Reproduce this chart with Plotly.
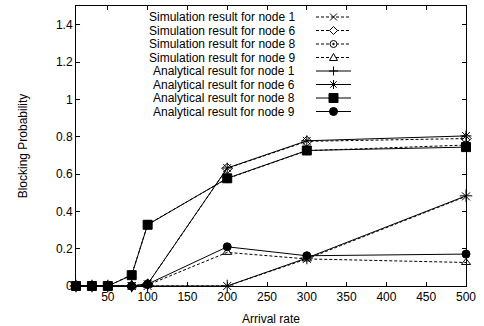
import plotly.graph_objects as go

x = [10, 30, 50, 80, 100, 200, 300, 500]
sim1 = [0, 0, 0, 0, 0, 0, 0.145, 0.48]
sim6 = [0, 0, 0, 0, 0.01, 0.63, 0.775, 0.79]
sim8 = [0, 0, 0, 0.06, 0.33, 0.575, 0.725, 0.755]
sim9 = [0, 0, 0, 0, 0.005, 0.18, 0.145, 0.126]
ana1 = [0, 0, 0, 0, 0, 0, 0.15, 0.483]
ana6 = [0, 0, 0, 0, 0.01, 0.632, 0.778, 0.804]
ana8 = [0, 0, 0, 0.058, 0.328, 0.577, 0.726, 0.744]
ana9 = [0, 0, 0, 0, 0.01, 0.21, 0.162, 0.171]

names = [
    "Simulation result for node 1", "Simulation result for node 6",
    "Simulation result for node 8", "Simulation result for node 9",
    "Analytical result for node 1", "Analytical result for node 6",
    "Analytical result for node 8", "Analytical result for node 9",
]
series = [sim1, sim6, sim8, sim9, ana1, ana6, ana8, ana9]
symbols = ["x-thin-open", "diamond-open", "circle-open-dot", "triangle-up-open",
           "cross-thin-open", "asterisk-open", "square", "circle"]
sizes = [8, 8, 8, 8, 9, 9, 9, 8]
dashes = ["3px,2px"] * 4 + ["solid"] * 4

FONT = "Liberation Sans, Arial, sans-serif"
FS = 12
L, R, T, B = 76, 18, 6, 40
W, H = 484, 326
PW, PH = W - L - R, H - T - B


def px(v):
    return (v - L) / PW


def py(v):
    return (H - B - v) / PH


fig = go.Figure()
for n, s, sym, sz, d in zip(names, series, symbols, sizes, dashes):
    fig.add_trace(go.Scatter(
        x=x, y=s, name=n, mode="lines+markers",
        line=dict(color="black", width=1, dash=d),
        marker=dict(symbol=sym, size=sz, color="black",
                    line=dict(color="black", width=1)),
        showlegend=False, cliponaxis=False,
    ))

# custom legend (text right-aligned, key on the right, like gnuplot)
rows_y = [17, 30.5, 44, 57.5, 71, 84.5, 98, 111.5]
paths = {
    0: "M-3.5,-3.5L3.5,3.5M-3.5,3.5L3.5,-3.5",
    1: "M0,-4L4,0L0,4L-4,0Z",
    3: "M-4,-3L4,-3L0,4Z",
    4: "M-4.5,0L4.5,0M0,-4.5L0,4.5",
    5: "M-4.5,0L4.5,0M0,-4.5L0,4.5M-3.2,-3.2L3.2,3.2M-3.2,3.2L3.2,-3.2",
}
shapes = []
annotations = []
for i, (n, ry) in enumerate(zip(names, rows_y)):
    annotations.append(dict(
        x=px(297), y=py(ry), xref="paper", yref="paper", text=n,
        showarrow=False, xanchor="right", yanchor="middle",
        font=dict(family=FONT, size=FS, color="black"),
    ))
    shapes.append(dict(
        type="line", xref="paper", yref="paper",
        x0=px(316), x1=px(351), y0=py(ry), y1=py(ry),
        line=dict(color="black", width=1, dash=dashes[i]),
    ))
    common = dict(xref="paper", yref="paper", xsizemode="pixel",
                  ysizemode="pixel", xanchor=px(333.5), yanchor=py(ry))
    if i in paths:
        shapes.append(dict(type="path", path=paths[i],
                           fillcolor="white" if i in (1, 3) else None,
                           line=dict(color="black", width=1), **common))
    elif i == 2:
        shapes.append(dict(type="circle", x0=-3.5, x1=3.5, y0=-3.5, y1=3.5,
                           fillcolor="white",
                           line=dict(color="black", width=1), **common))
        shapes.append(dict(type="circle", x0=-0.8, x1=0.8, y0=-0.8, y1=0.8,
                           fillcolor="black",
                           line=dict(color="black", width=1), **common))
    elif i == 6:
        shapes.append(dict(type="rect", x0=-4.5, x1=4.5, y0=-4.5, y1=4.5,
                           fillcolor="black",
                           line=dict(color="black", width=1), **common))
    elif i == 7:
        shapes.append(dict(type="circle", x0=-4, x1=4, y0=-4, y1=4,
                           fillcolor="black",
                           line=dict(color="black", width=1), **common))

axis_common = dict(
    showgrid=False, zeroline=False, showline=True, linecolor="black",
    linewidth=1, mirror="ticks", ticks="inside", ticklen=4,
    tickcolor="black", tickwidth=1, automargin=False,
    tickfont=dict(family=FONT, size=FS, color="black"),
)

fig.update_layout(
    width=W, height=H,
    margin=dict(l=L, r=R, t=T, b=B),
    paper_bgcolor="white", plot_bgcolor="white",
    font=dict(family=FONT, size=FS, color="black"),
    shapes=shapes, annotations=annotations,
    xaxis=dict(range=[10, 500], tickvals=[50, 100, 150, 200, 250, 300, 350, 400, 450, 500],
               title=dict(text="Arrival rate", font=dict(family=FONT, size=FS), standoff=13),
               **axis_common),
    yaxis=dict(range=[0, 1.5], tickvals=[0, 0.2, 0.4, 0.6, 0.8, 1, 1.2, 1.4],
               ticktext=["0", "0.2", "0.4", "0.6", "0.8", "1", "1.2", "1.4"],
               title=dict(text="Blocking Probability", font=dict(family=FONT, size=FS), standoff=25),
               **axis_common),
)

fig.write_html("out.html", config={"displayModeBar": False},
               post_script="document.body.style.margin='0';document.body.style.overflow='hidden';")
